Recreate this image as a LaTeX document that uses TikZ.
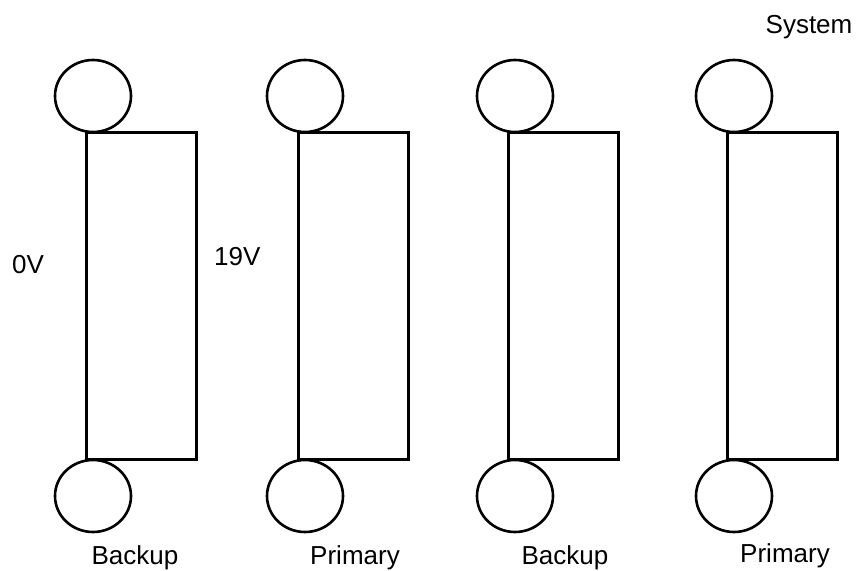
\documentclass[tikz,border=0pt]{standalone}
\usepackage{fontspec}
\setmainfont{Liberation Sans}
\usetikzlibrary{shapes.geometric}
\begin{document}
\begin{tikzpicture}[x=1pt,y=-1pt,
  bay/.style={draw,line width=3pt,minimum width=110pt,minimum height=327pt,inner sep=0pt},
  knob/.style={draw,ellipse,line width=2.6pt,minimum width=76pt,minimum height=72pt,inner sep=0pt},
  lbl/.style={font=\fontsize{26pt}{30pt}\selectfont,inner sep=0pt,anchor=base}]
\useasboundingbox (0,0) rectangle (859,570);
\foreach \i/\L in {1/86,2/298,3/508,4/727}{
  \node[bay] (r\i) at (\L+55,295.5) {};
  \node[knob] (t\i) at (\L+7,96) {};
  \node[knob] (b\i) at (\L+7,496) {};
}
\node[lbl] (l1) at (135,564) {Backup};
\node[lbl] (l2) at (355,564) {Primary};
\node[lbl] (l3) at (565,564) {Backup};
\node[lbl] (l4) at (785,562) {Primary};
\node[lbl] (sys) at (809,33) {System};
\node[lbl,anchor=base west] (v0) at (12,273) {0V};
\node[lbl,anchor=base west] (v19) at (214,265) {19V};
\end{tikzpicture}
\end{document}
